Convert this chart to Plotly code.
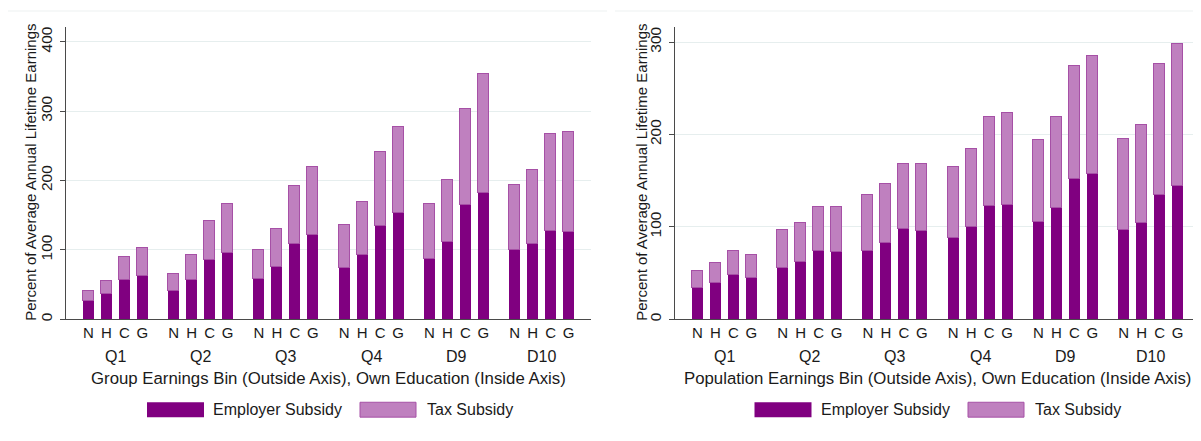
import plotly.graph_objects as go

groups = ["Q1", "Q2", "Q3", "Q4", "D9", "D10"]
educ = ["N", "H", "C", "G"]

# left panel: group earnings bins
left_employer = [26.8, 36.8, 56.4, 62.6,
                 40.6, 56.4, 85.1, 95.1,
                 57.8, 75.5, 108.0, 120.9,
                 74.1, 92.7, 135.2, 152.9,
                 87.0, 111.4, 164.4, 182.1,
                 99.9, 108.5, 127.6, 125.7]
left_tax = [13.3, 18.6, 33.0, 40.6,
            25.4, 36.8, 57.3, 71.2,
            42.6, 55.0, 83.6, 98.5,
            62.1, 76.5, 105.7, 123.8,
            78.8, 89.3, 138.6, 172.0,
            93.6, 106.1, 139.1, 143.8]

# right panel: population earnings bins
right_employer = [34.1, 39.4, 48.0, 44.8,
                  55.6, 62.0, 73.8, 72.4,
                  73.8, 82.4, 97.5, 95.3,
                  87.5, 100.4, 122.2, 123.3,
                  105.0, 120.8, 152.3, 157.0,
                  96.8, 104.7, 135.1, 144.4]
right_tax = [18.6, 21.9, 25.5, 25.1,
             41.2, 42.3, 47.7, 49.5,
             60.6, 63.8, 70.2, 73.2,
             77.4, 83.5, 97.2, 100.4,
             89.6, 98.6, 121.9, 127.9,
             98.9, 106.1, 141.6, 153.4]

left_xtitle = "Group Earnings Bin (Outside Axis), Own Education (Inside Axis)"
right_xtitle = "Population Earnings Bin (Outside Axis), Own Education (Inside Axis)"
ytitle = "Percent of Average Annual Lifetime Earnings"

# page body adds an 8px margin, so the figure is drawn 8px smaller
OFF = 8
W, H = 1201 - OFF, 441 - OFF
FONT = "'Liberation Sans', Arial, sans-serif"
TXT = "#1a1a1a"
EMP = "#800080"
TAX = "#bf80bf"
TAXLINE = "#a650a6"
GRID = "#e6eeee"
AXIS = "#4a4a4a"

GP = 4.74  # group pitch in bar units
xpos = [g * GP + i for g in range(len(groups)) for i in range(len(educ))]
xtext = educ * len(groups)
gcenter = [g * GP + 1.5 for g in range(len(groups))]
xrange_ = [-1.25, (len(groups) - 1) * GP + 3 + 1.25]

fig = go.Figure()
panels = [("x", "y", left_employer, left_tax), ("x2", "y2", right_employer, right_tax)]
for xa, ya, emp, tax in panels:
    fig.add_trace(go.Bar(x=xpos, y=emp, xaxis=xa, yaxis=ya, width=0.61,
                         marker=dict(color=EMP, line=dict(width=0)),
                         name="Employer Subsidy", showlegend=False))
    fig.add_trace(go.Bar(x=xpos, y=tax, xaxis=xa, yaxis=ya, width=0.61,
                         marker=dict(color=TAX, line=dict(color=TAXLINE, width=1)),
                         name="Tax Subsidy", showlegend=False))

def px(x):
    return (x - OFF) / W

def py(y):
    return 1 - (y - OFF) / H

xcommon = dict(range=xrange_, tickmode="array", tickvals=xpos, ticktext=xtext,
               showgrid=False, zeroline=False, showline=True, linecolor=AXIS,
               linewidth=1, ticks="", tickfont=dict(size=15, color=TXT),
               fixedrange=True)
ycommon = dict(showgrid=True, gridcolor=GRID, gridwidth=1, zeroline=False,
               showline=True, linecolor=AXIS, linewidth=1, ticks="outside",
               ticklen=5, tickcolor=AXIS, tickangle=-90, ticklabelstandoff=2,
               tickfont=dict(size=15.5, color=TXT))

fig.update_layout(
    width=W, height=H, margin=dict(l=0, r=0, t=0, b=0),
    paper_bgcolor="white", plot_bgcolor="white",
    barmode="stack", bargap=0, showlegend=False,
    font=dict(family=FONT, color=TXT),
    xaxis=dict(domain=[px(66), px(591)], anchor="y", **xcommon),
    yaxis=dict(domain=[py(320.3), py(26)], anchor="x", range=[0, 421.5],
               tickvals=[0, 100, 200, 300, 400], **ycommon),
    xaxis2=dict(domain=[px(675), px(1200)], anchor="y2", **xcommon),
    yaxis2=dict(domain=[py(320.3), py(26)], anchor="x2", range=[0, 316.5],
                tickvals=[0, 100, 200, 300], **ycommon),
)

shapes = [
    # faint graph frames
    dict(type="line", xref="paper", yref="paper", x0=0, x1=px(607), y0=py(10), y1=py(10),
         line=dict(color="#edf1f1", width=1)),
    dict(type="line", xref="paper", yref="paper", x0=px(615), x1=1, y0=py(10), y1=py(10),
         line=dict(color="#edf1f1", width=1)),
]
annotations = []
for xa, title, ytx in [("x", left_xtitle, 31), ("x2", right_xtitle, 642)]:
    for g, c in zip(groups, gcenter):
        annotations.append(dict(x=c, xref=xa, y=py(358), yref="paper", text=g,
                                showarrow=False, font=dict(size=16, color=TXT),
                                yanchor="middle"))
    annotations.append(dict(x=sum(xrange_) / 2, xref=xa, y=py(380), yref="paper",
                            text=title, showarrow=False,
                            font=dict(size=16.8, color=TXT), yanchor="middle"))
    annotations.append(dict(x=px(ytx), y=py(173), xref="paper", yref="paper",
                            text=ytitle, textangle=-90, showarrow=False,
                            xanchor="center", yanchor="middle",
                            font=dict(size=15, color=TXT)))

# legends drawn by hand (wide Stata-style keys)
legend_keys = [
    (147, 213, 360, 427),
    (754.5, 821, 968, 1034.5),
]
for e0, etx, t0, ttx in legend_keys:
    shapes.append(dict(type="rect", xref="paper", yref="paper", x0=px(e0), x1=px(e0 + 57),
                       y0=py(419), y1=py(404), fillcolor=EMP, line=dict(width=0)))
    shapes.append(dict(type="rect", xref="paper", yref="paper", x0=px(t0), x1=px(t0 + 56),
                       y0=py(419), y1=py(404), fillcolor=TAX, line=dict(color=TAXLINE, width=1)))
    annotations.append(dict(x=px(etx), y=py(411.5), xref="paper", yref="paper",
                            text="Employer Subsidy", showarrow=False, xanchor="left",
                            yanchor="middle", xshift=-2, font=dict(size=16, color=TXT)))
    annotations.append(dict(x=px(ttx), y=py(411.5), xref="paper", yref="paper",
                            text="Tax Subsidy", showarrow=False, xanchor="left",
                            yanchor="middle", xshift=-2, font=dict(size=16, color=TXT)))

fig.update_layout(shapes=shapes, annotations=annotations)

fig.write_html("out.html")
